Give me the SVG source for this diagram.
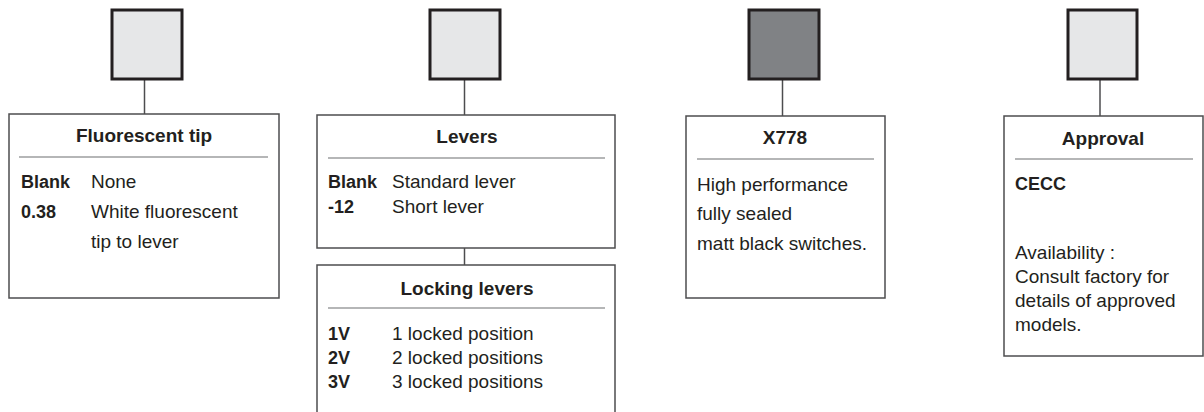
<svg xmlns="http://www.w3.org/2000/svg" width="1204" height="412" viewBox="0 0 1204 412">
<style>
.sq{fill:#e6e7e8;stroke:#231f20;stroke-width:3}
.sqd{fill:#808285;stroke:#231f20;stroke-width:3}
.box{fill:#fff;stroke:#4d4d4f;stroke-width:1.5}
.rule{stroke:#6d6e71;stroke-width:1.2}
.con{stroke:#4d4d4f;stroke-width:1.5;fill:none}
text{font-family:"Liberation Sans",Arial,sans-serif;fill:#231f20}
.t{font-size:19px;font-weight:bold;text-anchor:middle}
.b{font-size:18px;font-weight:bold}
.n{font-size:19px}
</style>
<g id="connectors">
<line class="con" x1="144.5" y1="79" x2="144.5" y2="114"/>
<line class="con" x1="464.5" y1="79" x2="464.5" y2="115"/>
<line class="con" x1="464.5" y1="248" x2="464.5" y2="265"/>
<line class="con" x1="782.5" y1="79" x2="782.5" y2="116"/>
<line class="con" x1="1100" y1="79" x2="1100" y2="116"/>
</g>
<g id="sq1"><rect class="sq" x="112" y="10" width="70" height="69"/></g>
<g id="sq2"><rect class="sq" x="430" y="10" width="70" height="69"/></g>
<g id="sq3"><rect class="sqd" x="749" y="10" width="70" height="69"/></g>
<g id="sq4"><rect class="sq" x="1068" y="10" width="69" height="69"/></g>
<g id="fluorescent">
<rect class="box" x="9" y="114" width="270" height="184"/>
<text class="t" x="144" y="142">Fluorescent tip</text>
<line class="rule" x1="19" y1="157" x2="268" y2="157"/>
<text class="b" x="21" y="188">Blank</text>
<text class="n" x="91" y="188">None</text>
<text class="b" x="21" y="218">0.38</text>
<text class="n" x="91" y="218">White fluorescent</text>
<text class="n" x="91" y="248">tip to lever</text>
</g>
<g id="levers">
<rect class="box" x="317" y="115" width="298" height="133"/>
<text class="t" x="467" y="143">Levers</text>
<line class="rule" x1="328" y1="158" x2="605" y2="158"/>
<text class="b" x="328" y="188">Blank</text>
<text class="n" x="392" y="188">Standard lever</text>
<text class="b" x="328" y="213">-12</text>
<text class="n" x="392" y="213">Short lever</text>
</g>
<g id="locking">
<path class="box" d="M317 420 V265 H615 V420"/>
<text class="t" x="467" y="295">Locking levers</text>
<line class="rule" x1="328" y1="308" x2="605" y2="308"/>
<text class="b" x="328" y="340">1V</text>
<text class="n" x="392" y="340">1 locked position</text>
<text class="b" x="328" y="364">2V</text>
<text class="n" x="392" y="364">2 locked positions</text>
<text class="b" x="328" y="388">3V</text>
<text class="n" x="392" y="388">3 locked positions</text>
</g>
<g id="x778">
<rect class="box" x="686" y="116" width="199" height="182"/>
<text class="t" x="785" y="144">X778</text>
<line class="rule" x1="697" y1="159" x2="874" y2="159"/>
<text class="n" x="697" y="191">High performance</text>
<text class="n" x="697" y="220">fully sealed</text>
<text class="n" x="697" y="250">matt black switches.</text>
</g>
<g id="approval">
<rect class="box" x="1004" y="116" width="199" height="240"/>
<text class="t" x="1103" y="145">Approval</text>
<line class="rule" x1="1015" y1="159" x2="1193" y2="159"/>
<text class="b" x="1015" y="190">CECC</text>
<text class="n" x="1015" y="259">Availability :</text>
<text class="n" x="1015" y="283">Consult factory for</text>
<text class="n" x="1015" y="307">details of approved</text>
<text class="n" x="1015" y="331">models.</text>
</g>
</svg>
